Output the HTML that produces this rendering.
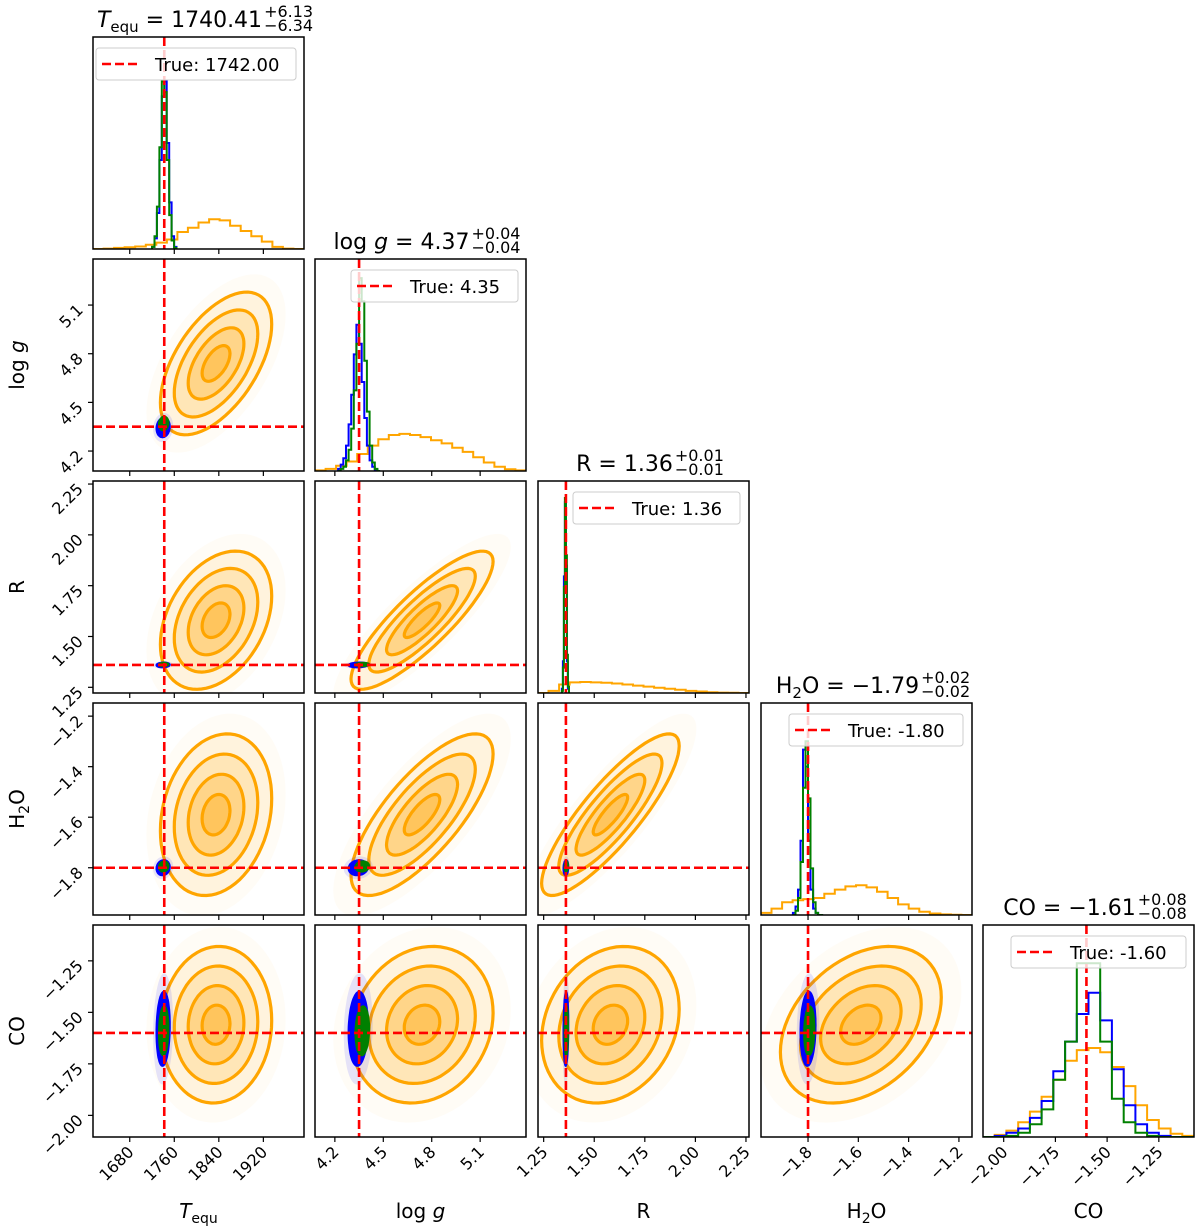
<!DOCTYPE html>
<html><head><meta charset="utf-8">
<style>
html,body{margin:0;padding:0;background:#fff;}
svg{display:block;font-family:"DejaVu Sans","Liberation Sans",sans-serif;}
</style></head>
<body>
<svg id="chart" width="1200" height="1231" viewBox="0 0 1200 1231" xmlns="http://www.w3.org/2000/svg"></svg>
<script>
// ---- data ----
const paramNames = ['Teq','logg','R','H2O','CO'];
const trueVals = [1742, 4.35, 1.36, -1.80, -1.60];
const trueLabels = ['1742.00','4.35','1.36','-1.80','-1.60'];
const medians = ['1740.41','4.37','1.36','\u22121.79','\u22121.61'];
const errPlus = ['+6.13','+0.04','+0.01','+0.02','+0.08'];
const errMinus = ['\u22126.34','\u22120.04','\u22120.01','\u22120.02','\u22120.08'];
const xRanges = [[1614,1993],[4.077,5.384],[1.222,2.265],[-1.987,-1.148],[-2.10,-1.08]];
const yRanges = [null,[4.077,5.384],[1.222,2.265],[-1.987,-1.148],[-2.105,-1.076]];
const tickVals = [[1680,1760,1840,1920],[4.2,4.5,4.8,5.1],[1.25,1.5,1.75,2.0,2.25],[-1.8,-1.6,-1.4,-1.2],[-2.0,-1.75,-1.5,-1.25]];
const tickLabels = [['1680','1760','1840','1920'],['4.2','4.5','4.8','5.1'],['1.25','1.50','1.75','2.00','2.25'],['\u22121.8','\u22121.6','\u22121.4','\u22121.2'],['\u22122.00','\u22121.75','\u22121.50','\u22121.25']];
// orange (broad) posterior summary
const orangeMean = [1835, 4.74, 1.58, -1.59, -1.56];
const orangeSd = [50, 0.22, 0.17, 0.16, 0.19];
const orangeCorr = [[1,0.55,0.35,0.2,0.05],[0.55,1,0.85,0.75,0.15],[0.35,0.85,1,0.85,0.2],[0.2,0.75,0.85,1,0.35],[0.05,0.15,0.2,0.35,1]];
// blue and green (narrow) posterior summaries
const blueMean = [1740, 4.345, 1.360, -1.800, -1.58];
const blueSd = [6, 0.03, 0.006, 0.015, 0.09];
const greenMean = [1741, 4.37, 1.362, -1.795, -1.59];
const greenSd = [5, 0.025, 0.005, 0.012, 0.07];
// histograms: [start,end] bin ranges and heights (fraction of panel height)
const histOrangeRange = [[1614,1993],[4.077,5.384],[1.222,2.265],[-1.987,-1.148],[-2.10,-1.08]];
const histOrange = [
 [0,0.002,0.005,0.008,0.012,0.02,0.03,0.045,0.08,0.1,0.125,0.14,0.135,0.11,0.085,0.06,0.035,0.01,0.002,0],
 [0.003,0.01,0.025,0.045,0.08,0.12,0.15,0.17,0.175,0.17,0.16,0.145,0.13,0.11,0.09,0.065,0.04,0.02,0.008,0.003],
 [0,0.01,0.04,0.05,0.052,0.05,0.048,0.045,0.04,0.035,0.03,0.025,0.02,0.015,0.01,0.007,0.004,0.002,0.001,0],
 [0.01,0.03,0.06,0.07,0.075,0.08,0.1,0.12,0.135,0.14,0.13,0.11,0.08,0.05,0.03,0.015,0.007,0.003,0.001,0],
 [0,0.01,0.03,0.07,0.12,0.19,0.27,0.36,0.41,0.42,0.4,0.33,0.24,0.15,0.08,0.04,0.015,0.005]
];
const histNarrowRange = [[1720,1764],[4.22,4.48],[1.34,1.38],[-1.86,-1.74],[-2.10,-1.08]];
const histBlue = [
 [0.01,0.05,0.17,0.42,0.72,0.79,0.5,0.22,0.06,0.01],
 [0.01,0.03,0.06,0.12,0.22,0.36,0.55,0.69,0.6,0.42,0.25,0.12,0.05,0.02,0.005,0],
 [0.02,0.15,0.55,0.9,0.6,0.15,0.02,0],
 [0.01,0.04,0.12,0.35,0.78,0.7,0.35,0.12,0.03,0.01,0,0],
 [0,0.005,0.02,0.04,0.09,0.17,0.31,0.45,0.58,0.68,0.55,0.32,0.15,0.06,0.02,0.005,0,0]
];
const histGreen = [
 [0.01,0.06,0.2,0.48,0.79,0.74,0.42,0.16,0.04,0.005],
 [0,0.01,0.02,0.05,0.1,0.2,0.38,0.6,0.91,0.8,0.52,0.28,0.12,0.04,0.01,0],
 [0.01,0.12,0.5,0.92,0.65,0.18,0.03,0],
 [0,0.02,0.08,0.25,0.6,0.82,0.55,0.22,0.06,0.01,0,0],
 [0,0,0.005,0.02,0.06,0.13,0.27,0.45,0.82,0.82,0.45,0.18,0.07,0.02,0.005,0,0,0]
];

// ---- layout ----
const colX = [93,315,538,761,983];
const rowY = [37,259,481,703,925];
const PW = 211, PH = 212;
const NS = 'http://www.w3.org/2000/svg';
const svg = document.getElementById('chart');
function mk(tag, attrs, parent){ const e=document.createElementNS(NS,tag); for(const k in attrs) e.setAttribute(k,attrs[k]); (parent||svg).appendChild(e); return e; }
function sx(i,v){ const r=xRanges[i]; return colX[i] + (v-r[0])/(r[1]-r[0])*PW; }
function sy(row,v){ const r=yRanges[row]; return rowY[row]+PH - (v-r[0])/(r[1]-r[0])*PH; }

const defs = mk('defs',{});
function clipFor(id,x,y){ const c=mk('clipPath',{id:id},defs); mk('rect',{x:x,y:y,width:PW,height:PH},c); }

function ellipsePts(col,row,mx,my,sxv,syv,r,s){
  let d='';
  for(let k=0;k<=72;k++){
    const t=2*Math.PI*k/72, u=s*Math.cos(t), v=s*Math.sin(t);
    const X=mx+sxv*u, Y=my+syv*(r*u+Math.sqrt(1-r*r)*v);
    d+=(k?'L':'M')+sx(col,X).toFixed(1)+','+sy(row,Y).toFixed(1);
  }
  return d+'Z';
}

// ---- 2D panels ----
for(let row=1;row<5;row++){
  for(let col=0;col<row;col++){
    const g=mk('g',{'clip-path':'url(#c'+row+col+')'});
    
    
    clipFor('c'+row+col,colX[col],rowY[row]);
    const r=orangeCorr[col][row];
    const om=[orangeMean[col],orangeMean[row]], os=[orangeSd[col],orangeSd[row]];
    const fills=[[2.5,0.035],[2.0,0.1],[1.5,0.17],[1.0,0.25],[0.5,0.32]];
    fills.forEach(f=>{ const p=mk('path',{d:ellipsePts(col,row,om[0],om[1],os[0],os[1],r,f[0]),fill:'rgba(255,165,0,'+f[1]+')'},g);
        });
    [0.5,1.0,1.5,2.0].forEach(s=>{ const p=mk('path',{d:ellipsePts(col,row,om[0],om[1],os[0],os[1],r,s),fill:'none',stroke:'#ffa500','stroke-width':3.2},g);
        });
    const bh=mk('path',{d:ellipsePts(col,row,blueMean[col],blueMean[row],blueSd[col],blueSd[row],0.1,3.0),fill:'rgba(0,0,255,0.1)'},g);
     
    const b=mk('path',{d:ellipsePts(col,row,blueMean[col],blueMean[row],blueSd[col],blueSd[row],0.1,2.0),fill:'#0000ff',stroke:'#0000ff','stroke-width':2},g);
     
    const gr=mk('path',{d:ellipsePts(col,row,greenMean[col],greenMean[row],greenSd[col],greenSd[row],0.1,1.7),fill:'#008000',stroke:'#008000','stroke-width':2},g);
     
    const vx=sx(col,trueVals[col]), hy=sy(row,trueVals[row]);
    const tv=mk('line',{x1:vx,x2:vx,y1:rowY[row],y2:rowY[row]+PH,stroke:'red','stroke-width':2.6,'stroke-dasharray':'9,4'},g);
     
    const th=mk('line',{x1:colX[col],x2:colX[col]+PW,y1:hy,y2:hy,stroke:'red','stroke-width':2.6,'stroke-dasharray':'9,4'},g);
     
    const fr=mk('rect',{x:colX[col],y:rowY[row],width:PW,height:PH,fill:'none',stroke:'#000','stroke-width':1.5});
     
  }
}

// ---- diagonal panels ----
function stepPath(i,vals,range){
  const n=vals.length, w=(range[1]-range[0])/n, base=rowY[i]+PH;
  let d='M'+sx(i,range[0]).toFixed(1)+','+base;
  for(let k=0;k<n;k++){
    const y=(base - vals[k]*PH).toFixed(1);
    d+='L'+sx(i,range[0]+k*w).toFixed(1)+','+y+'L'+sx(i,range[0]+(k+1)*w).toFixed(1)+','+y;
  }
  return d+'L'+sx(i,range[1]).toFixed(1)+','+base;
}
for(let i=0;i<5;i++){
  const g=mk('g',{'clip-path':'url(#d'+i+')'});
  
  
  clipFor('d'+i,colX[i],rowY[i]);
  const po=mk('path',{d:stepPath(i,histOrange[i],histOrangeRange[i]),fill:'none',stroke:'#ffa500','stroke-width':2},g);
   
  const pb=mk('path',{d:stepPath(i,histBlue[i],histNarrowRange[i]),fill:'none',stroke:'#0000ff','stroke-width':2},g);
   
  const pg=mk('path',{d:stepPath(i,histGreen[i],histNarrowRange[i]),fill:'none',stroke:'#008000','stroke-width':2},g);
   
  const vx=sx(i,trueVals[i]);
  const tl=mk('line',{x1:vx,x2:vx,y1:rowY[i],y2:rowY[i]+PH,stroke:'red','stroke-width':2.6,'stroke-dasharray':'9,4'},g);
   
  const fr=mk('rect',{x:colX[i],y:rowY[i],width:PW,height:PH,fill:'none',stroke:'#000','stroke-width':1.5});
   
  const lw=[200,167,167,174,175][i], lx=colX[i]+[3,36,35,28,28][i], ly=rowY[i]+11;
  const lg=mk('g',{});
  
  
  mk('rect',{x:lx,y:ly,width:lw,height:32,rx:3,fill:'rgba(255,255,255,0.8)',stroke:'#ccc','stroke-width':1},lg);
  mk('line',{x1:lx+6,x2:lx+44,y1:ly+16,y2:ly+16,stroke:'red','stroke-width':2.6,'stroke-dasharray':'9,4'},lg);
  const lt=mk('text',{x:lx+59,y:ly+23,'font-size':18,fill:'#000'},lg);
  lt.textContent='True: '+trueLabels[i];
  const tg=mk('g',{});
  
  
  const ty=rowY[i]-10;
  const main=mk('text',{x:0,y:ty,'font-size':22,fill:'#000'},tg);
  if(i===0){ main.innerHTML='<tspan font-style="italic">T</tspan><tspan font-size="15" dy="5">equ</tspan><tspan dy="-5"> = '+medians[0]+'</tspan>'; }
  else if(i===1){ main.innerHTML='log <tspan font-style="italic">g</tspan> = '+medians[1]; }
  else if(i===2){ main.textContent='R = '+medians[2]; }
  else if(i===3){ main.innerHTML='H<tspan font-size="15" dy="5">2</tspan><tspan dy="-5">O = '+medians[3]+'</tspan>'; }
  else { main.textContent='CO = '+medians[4]; }
  const mw=main.getComputedTextLength();
  const total=mw+38, x0=colX[i]+PW/2-total/2;
  main.setAttribute('x',x0);
  const sp=mk('text',{x:x0+mw+2,y:ty-10,'font-size':16,fill:'#000'},tg); sp.textContent=errPlus[i];
  const sb=mk('text',{x:x0+mw+2,y:ty+4,'font-size':16,fill:'#000'},tg); sb.textContent=errMinus[i];
}

// ---- ticks ----
for(let row=0;row<5;row++){
  for(let col=0;col<=row;col++){
    const bottom=rowY[row]+PH;
    tickVals[col].forEach((v,k)=>{
      const x=sx(col,v);
      if(x<colX[col]||x>colX[col]+PW) return;
      mk('line',{x1:x,x2:x,y1:bottom,y2:bottom+5,stroke:'#000','stroke-width':1.2});
      if(row===4){
        const t=mk('text',{x:x+5,y:bottom+16,'font-size':16,'text-anchor':'end',fill:'#000',transform:'rotate(-45 '+(x+5)+' '+(bottom+16)+')'});
        
        
        t.textContent=tickLabels[col][k];
      }
    });
  }
}
for(let row=1;row<5;row++){
  tickVals[row].forEach((v,k)=>{
    const y=sy(row,v);
    if(y<rowY[row]-1||y>rowY[row]+PH+1) return;
    mk('line',{x1:colX[0]-5,x2:colX[0],y1:y,y2:y,stroke:'#000','stroke-width':1.2});
    const ax=colX[0]-9, ay=y+6;
    const t=mk('text',{x:ax,y:ay,'font-size':16,'text-anchor':'end',fill:'#000',transform:'rotate(-45 '+ax+' '+ay+')'});
    
    
    t.textContent=tickLabels[row][k];
  });
}

// ---- axis labels ----
const xl=[
 '<tspan font-style="italic">T</tspan><tspan font-size="14" dy="5">equ</tspan>',
 'log <tspan font-style="italic">g</tspan>','R',
 'H<tspan font-size="14" dy="5">2</tspan><tspan dy="-5">O</tspan>','CO'];
xl.forEach((h,i)=>{
  const t=mk('text',{x:colX[i]+PW/2,y:1218,'font-size':20,'text-anchor':'middle',fill:'#000'});
  
  
  t.innerHTML=h;
});
for(let row=1;row<5;row++){
  const cy=rowY[row]+PH/2, cx=24;
  const t=mk('text',{x:cx,y:cy,'font-size':20,'text-anchor':'middle',fill:'#000',transform:'rotate(-90 '+cx+' '+cy+')'});
  
  
  t.innerHTML=xl[row];
}
</script>
</body></html>
